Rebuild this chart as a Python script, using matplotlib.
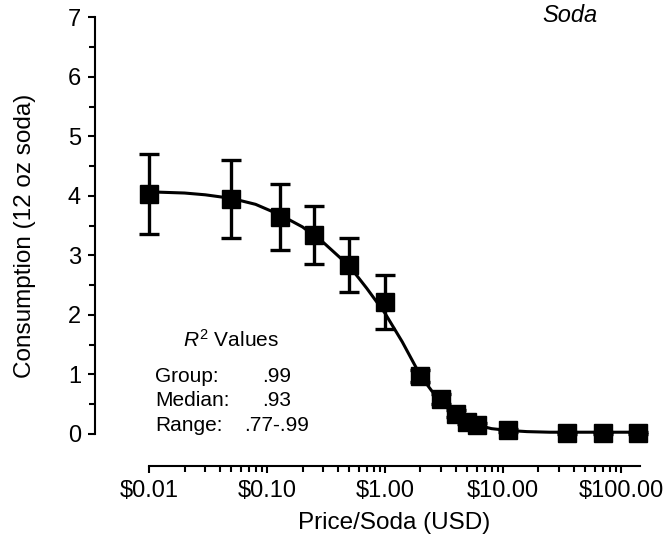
import numpy as np
import matplotlib.pyplot as plt

plt.rcParams['font.family'] = ['Liberation Sans', 'DejaVu Sans']
plt.rcParams['mathtext.fontset'] = 'custom'
plt.rcParams['mathtext.rm'] = 'Liberation Sans'
plt.rcParams['mathtext.it'] = 'Liberation Sans:italic'

# group means and SEM
prices = [0.01, 0.05, 0.13, 0.25, 0.50, 1, 2, 3, 4, 5, 6, 11, 35, 70, 140]
consumption = [4.03, 3.95, 3.65, 3.34, 2.84, 2.22, 0.97, 0.59, 0.34, 0.21, 0.15, 0.06, 0.02, 0.02, 0.02]
sem = [0.67, 0.65, 0.56, 0.49, 0.46, 0.45, 0.10, 0.08, 0.06, 0.05, 0.04, 0.03, 0.02, 0.02, 0.02]

# fitted demand curve
curve_x = [0.01, 0.02, 0.03, 0.05, 0.08, 0.13, 0.2, 0.3, 0.5, 0.7, 1.0, 1.4, 2.0,
           2.5, 3.0, 4.0, 5.0, 6.0, 8.0, 11, 16, 25, 40, 140]
curve_y = [4.07, 4.05, 4.02, 3.96, 3.86, 3.68, 3.48, 3.22, 2.82, 2.45, 2.03, 1.55, 0.98,
           0.72, 0.55, 0.33, 0.21, 0.15, 0.09, 0.06, 0.04, 0.03, 0.03, 0.03]

xticks = [0.01, 0.1, 1, 10, 100]
xticklabels = ['$0.01', '$0.10', '$1.00', '$10.00', '$100.00']
yticks = [0, 1, 2, 3, 4, 5, 6, 7]

r2_labels = ['Group:', 'Median:', 'Range:']
r2_values = ['.99', '.93', '.77-.99']

fig = plt.figure(figsize=(6.7, 5.4), dpi=100)
ax = fig.add_axes([0.2224, 0.1963, 0.7328, 0.7713])

ax.plot(curve_x, curve_y, color='black', lw=2.2, zorder=2, clip_on=False)
ax.errorbar(prices, consumption, yerr=sem, fmt='none', ecolor='black', elinewidth=2.4,
            capsize=7.5, capthick=2.4, zorder=3, clip_on=False)
ax.plot(prices, consumption, 's', color='black', markersize=12.5, zorder=4, clip_on=False)

ax.set_xscale('log')
ax.set_xlim(0.01, 145)
ax.set_ylim(0, 7)
ax.set_xticks(xticks)
ax.set_xticklabels(xticklabels)
ax.set_yticks(yticks)
ax.set_yticks(np.arange(0.5, 7, 1), minor=True)

for s in ['top', 'right']:
    ax.spines[s].set_visible(False)
ax.spines['left'].set_position(('outward', 39))
ax.spines['bottom'].set_position(('outward', 23))
ax.spines['left'].set_linewidth(1.5)
ax.spines['bottom'].set_linewidth(1.5)

ax.tick_params(which='major', length=5, width=1.5, labelsize=17, pad=5)
ax.tick_params(which='minor', length=4, width=1.5)

ax.set_xlabel('Price/Soda (USD)', fontsize=17.5)
ax.set_ylabel('Consumption (12 oz soda)', fontsize=17.5)
ax.xaxis.set_label_coords(0.5, -0.187)
ax.yaxis.set_label_coords(-0.23, 0.475)

fig.text(0.85, 0.972, 'Soda', fontsize=17, style='italic', ha='center', va='center')

ax.text(0.167, 0.2257, r'$R^2$ Values', fontsize=15, ha='center', va='center',
        transform=ax.transAxes)
for i, (lab, val) in enumerate(zip(r2_labels, r2_values)):
    y = 0.139 - i * 0.0587
    ax.text(0.0122, y, lab, fontsize=15, ha='left', va='center', transform=ax.transAxes)
    ax.text(0.2607, y, val, fontsize=15, ha='center', va='center', transform=ax.transAxes)

fig.savefig('out.png', dpi=100)
